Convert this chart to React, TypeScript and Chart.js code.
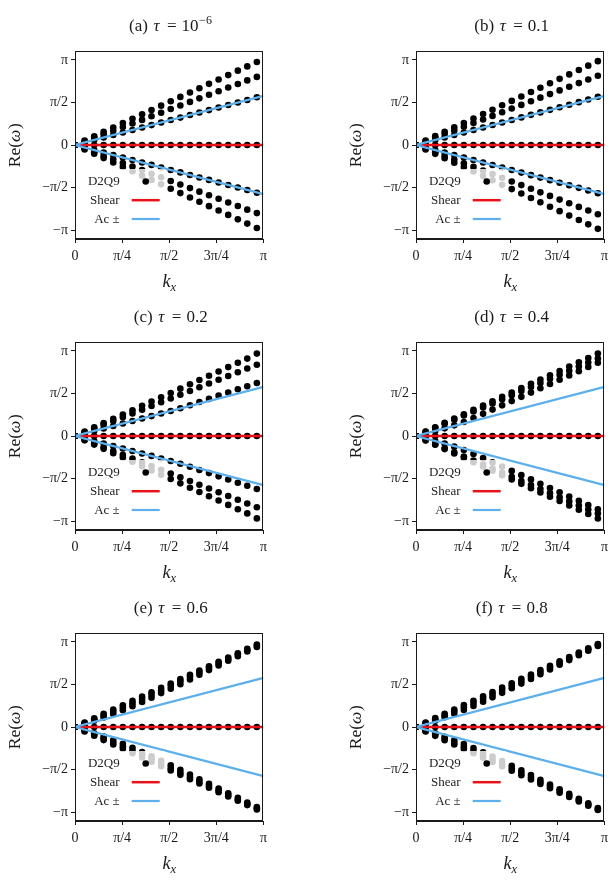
import React, { useEffect, useRef } from 'react';
import { Chart, registerables } from 'chart.js';

Chart.register(...registerables);

// ---- data (all values in units of π) ----
const KX = [0, 0.051, 0.102, 0.152, 0.203, 0.254, 0.305, 0.356, 0.406, 0.457, 0.508, 0.559, 0.61, 0.66, 0.711, 0.762, 0.813, 0.864, 0.914, 0.965];
const ZERO_MODE = [0, 0, 0, 0, 0, 0, 0, 0, 0, 0, 0, 0, 0, 0, 0, 0, 0, 0, 0, 0];

const A_TOP = [0, 0.052, 0.103, 0.154, 0.205, 0.257, 0.308, 0.36, 0.41, 0.462, 0.513, 0.565, 0.616, 0.667, 0.718, 0.77, 0.821, 0.873, 0.923, 0.975];
const A_MID = [0, 0.042, 0.085, 0.126, 0.168, 0.211, 0.253, 0.295, 0.337, 0.379, 0.422, 0.464, 0.506, 0.548, 0.59, 0.632, 0.675, 0.717, 0.759, 0.8];
const A_LOW = [0, 0.029, 0.059, 0.088, 0.117, 0.147, 0.176, 0.205, 0.234, 0.264, 0.293, 0.322, 0.352, 0.381, 0.41, 0.44, 0.469, 0.499, 0.529, 0.56];

const B_TOP = [0, 0.052, 0.104, 0.155, 0.207, 0.259, 0.311, 0.363, 0.414, 0.466, 0.518, 0.57, 0.622, 0.673, 0.725, 0.777, 0.829, 0.881, 0.932, 0.985];
const B_MID = [0, 0.043, 0.086, 0.128, 0.171, 0.214, 0.257, 0.3, 0.342, 0.385, 0.428, 0.471, 0.513, 0.556, 0.598, 0.641, 0.684, 0.727, 0.77, 0.814];
const B_LOW = [0, 0.03, 0.059, 0.088, 0.118, 0.147, 0.177, 0.206, 0.235, 0.265, 0.294, 0.324, 0.354, 0.383, 0.413, 0.443, 0.473, 0.503, 0.534, 0.566];

const C_TOP = [0, 0.051, 0.101, 0.151, 0.202, 0.253, 0.303, 0.354, 0.404, 0.455, 0.505, 0.556, 0.607, 0.657, 0.707, 0.758, 0.809, 0.86, 0.909, 0.968];
const C_MID = [0, 0.044, 0.088, 0.132, 0.176, 0.22, 0.264, 0.309, 0.352, 0.396, 0.44, 0.485, 0.529, 0.572, 0.616, 0.661, 0.705, 0.749, 0.792, 0.837];
const C_LOW = [0, 0.029, 0.059, 0.088, 0.117, 0.147, 0.176, 0.205, 0.234, 0.264, 0.293, 0.326, 0.362, 0.399, 0.436, 0.474, 0.511, 0.549, 0.585, 0.622];

const D_TOP = [0, 0.052, 0.103, 0.154, 0.205, 0.256, 0.307, 0.358, 0.409, 0.46, 0.51, 0.562, 0.613, 0.663, 0.714, 0.764, 0.815, 0.866, 0.916, 0.969];
const D_MID = [0, 0.048, 0.096, 0.143, 0.192, 0.24, 0.288, 0.336, 0.383, 0.431, 0.48, 0.528, 0.576, 0.623, 0.671, 0.719, 0.767, 0.816, 0.863, 0.911];
const D_LOW = [0, 0.03, 0.06, 0.09, 0.125, 0.165, 0.21, 0.26, 0.31, 0.36, 0.41, 0.46, 0.51, 0.56, 0.61, 0.66, 0.71, 0.76, 0.81, 0.86];

const E_TOP = [0, 0.052, 0.103, 0.154, 0.205, 0.256, 0.307, 0.358, 0.409, 0.46, 0.511, 0.562, 0.613, 0.663, 0.714, 0.765, 0.816, 0.867, 0.917, 0.968];
const E_MID = [0, 0.045, 0.09, 0.135, 0.182, 0.23, 0.279, 0.329, 0.38, 0.432, 0.484, 0.536, 0.589, 0.641, 0.694, 0.746, 0.799, 0.851, 0.903, 0.955];
const E_LOW = [0, 0.036, 0.073, 0.112, 0.154, 0.198, 0.245, 0.294, 0.345, 0.398, 0.45, 0.503, 0.558, 0.613, 0.668, 0.723, 0.778, 0.832, 0.886, 0.94];

const F_TOP = [0, 0.052, 0.104, 0.155, 0.206, 0.257, 0.309, 0.36, 0.411, 0.462, 0.514, 0.566, 0.617, 0.668, 0.72, 0.772, 0.823, 0.874, 0.925, 0.975];
const F_MID = [0, 0.046, 0.091, 0.137, 0.184, 0.232, 0.282, 0.332, 0.383, 0.435, 0.488, 0.541, 0.593, 0.646, 0.699, 0.753, 0.806, 0.859, 0.912, 0.965];
const F_LOW = [0, 0.037, 0.074, 0.114, 0.156, 0.2, 0.247, 0.296, 0.348, 0.401, 0.455, 0.51, 0.564, 0.619, 0.675, 0.731, 0.786, 0.842, 0.897, 0.952];

// theory lines
const LINE_KX = [0, 1];
const SHEAR = [0, 0];
const AC_PLUS = [0, 0.577];
const AC_MINUS = [0, -0.577];

// ticks
const X_TICKS = [0, 0.25, 0.5, 0.75, 1];
const X_TICK_LABELS = ['0', 'π/4', 'π/2', '3π/4', 'π'];
const Y_TICKS = [-1, -0.5, 0, 0.5, 1];
const Y_TICK_LABELS = ['−π', '−π/2', '0', 'π/2', 'π'];

const PANEL_LABELS = ['(a)', '(b)', '(c)', '(d)', '(e)', '(f)'];
const TAU_TEXT = ['10', '0.1', '0.2', '0.4', '0.6', '0.8'];
const TAU_EXP = ['−6', '', '', '', '', ''];
const LEGEND_LABELS = ['D2Q9', 'Shear', 'Ac ±'];

const BRANCHES = [
  [A_TOP, A_MID, A_LOW],
  [B_TOP, B_MID, B_LOW],
  [C_TOP, C_MID, C_LOW],
  [D_TOP, D_MID, D_LOW],
  [E_TOP, E_MID, E_LOW],
  [F_TOP, F_MID, F_LOW],
];

// ---- style / layout ----
const FONT = "'Liberation Serif', 'Times New Roman', serif";
const RED = '#e8121b';
const BLUE = '#5db0ec';
const INK = '#1a1a1a';
const CANVAS_W = 272;
const CANVAS_H = 291;
const COL_LEFT = [0, 341];
const ROW_TOP = [0, 291, 582];
const Y_RANGE = 1.104;
const DOT_R = 3.3;

type Seg = { t: string; font: string; dy?: number; gap?: number };

function drawSegs(ctx: CanvasRenderingContext2D, segs: Seg[], cx: number, y: number) {
  let total = 0;
  const widths = segs.map((s) => {
    ctx.font = s.font;
    const w = ctx.measureText(s.t).width + (s.gap || 0);
    total += w;
    return w;
  });
  let x = cx - total / 2;
  ctx.textAlign = 'left';
  ctx.textBaseline = 'alphabetic';
  segs.forEach((s, i) => {
    ctx.font = s.font;
    ctx.fillText(s.t, x + (s.gap || 0) / 2, y + (s.dy || 0));
    x += widths[i];
  });
}

const decorPlugin = {
  id: 'decor',
  afterDatasetsDraw(chart: any) {
    const { ctx, chartArea: a } = chart;
    ctx.save();
    // full frame
    ctx.strokeStyle = INK;
    ctx.lineWidth = 1;
    const l = Math.round(a.left) + 0.5;
    const t = Math.round(a.top) + 0.5;
    const r = Math.round(a.right) - 0.5;
    const b = Math.round(a.bottom) - 0.5;
    ctx.strokeRect(l, t, r - l, b - t);

    // legend box (semi-transparent white)
    ctx.fillStyle = 'rgba(255,255,255,0.8)';
    ctx.beginPath();
    (ctx as any).roundRect(a.left + 4, a.top + 118, 87, 62, 3);
    ctx.fill();

    const textX = a.left + 44.7;
    const h0 = a.left + 56.7;
    const h1 = a.left + 84.7;
    const rows = [a.top + 130.5, a.top + 149.2, a.top + 168];
    ctx.font = `13px ${FONT}`;
    ctx.fillStyle = '#222';
    ctx.textAlign = 'right';
    ctx.textBaseline = 'middle';
    LEGEND_LABELS.forEach((lab, i) => ctx.fillText(lab, textX, rows[i] + 0.5));
    // handles
    ctx.fillStyle = '#000';
    ctx.beginPath();
    ctx.arc((h0 + h1) / 2, rows[0], DOT_R, 0, Math.PI * 2);
    ctx.fill();
    ctx.lineCap = 'butt';
    ctx.strokeStyle = RED;
    ctx.lineWidth = 2.5;
    ctx.beginPath();
    ctx.moveTo(h0, rows[1]);
    ctx.lineTo(h1, rows[1]);
    ctx.stroke();
    ctx.strokeStyle = BLUE;
    ctx.lineWidth = 2.2;
    ctx.beginPath();
    ctx.moveTo(h0, rows[2]);
    ctx.lineTo(h1, rows[2]);
    ctx.stroke();
    ctx.restore();
  },
  afterDraw(chart: any) {
    const { ctx, chartArea: a } = chart;
    const idx = chart.options.plugins.decor.panel as number;
    ctx.save();
    ctx.fillStyle = INK;
    const cx = (a.left + a.right) / 2;
    // title
    const tf = `17px ${FONT}`;
    const tfi = `italic 17px ${FONT}`;
    const segs: Seg[] = [
      { t: PANEL_LABELS[idx], font: tf, gap: 6 },
      { t: 'τ', font: tfi, gap: 5 },
      { t: '=', font: tf, gap: 10 },
      { t: TAU_TEXT[idx], font: tf },
    ];
    if (TAU_EXP[idx]) segs.push({ t: TAU_EXP[idx], font: `12px ${FONT}`, dy: -7.5, gap: 1 });
    drawSegs(ctx, segs, cx, a.top - 20);

    // x label k_x
    drawSegs(
      ctx,
      [
        { t: 'k', font: `italic 18px ${FONT}` },
        { t: 'x', font: `italic 12.5px ${FONT}`, dy: 3.5 },
      ],
      cx,
      a.bottom + 48
    );

    // y label Re(ω)
    ctx.translate(a.left - 55, (a.top + a.bottom) / 2);
    ctx.rotate(-Math.PI / 2);
    drawSegs(
      ctx,
      [
        { t: 'Re(', font: `17.5px ${FONT}` },
        { t: 'ω', font: `italic 17.5px ${FONT}` },
        { t: ')', font: `17.5px ${FONT}`, gap: 1 },
      ],
      0,
      0
    );
    ctx.restore();
  },
};

const pts = (xs: number[], ys: number[]) => xs.map((x, i) => ({ x, y: ys[i] }));
const neg = (ys: number[]) => ys.map((v) => -v);

function Panel({ idx }: { idx: number }) {
  const ref = useRef<HTMLCanvasElement>(null);
  useEffect(() => {
    const [top, mid, low] = BRANCHES[idx];
    const dotBranches = [ZERO_MODE, top, mid, low, neg(top), neg(mid), neg(low)];
    const dotSets = dotBranches.map((ys) => ({
      type: 'scatter' as const,
      data: pts(KX, ys),
      pointRadius: DOT_R,
      pointHoverRadius: DOT_R,
      pointBackgroundColor: '#000',
      pointBorderWidth: 0,
      showLine: false,
      order: 5,
    }));
    const lineSet = (ys: number[], color: string, w: number, order: number) => ({
      type: 'scatter' as const,
      data: pts(LINE_KX, ys),
      showLine: true,
      borderColor: color,
      borderWidth: w,
      pointRadius: 0,
      fill: false,
      order,
    });
    const tickFont = { family: FONT, size: 14 };
    const chart = new Chart(ref.current as HTMLCanvasElement, {
      type: 'scatter',
      data: {
        datasets: [
          lineSet(AC_PLUS, BLUE, 2.2, 0),
          lineSet(AC_MINUS, BLUE, 2.2, 0),
          lineSet(SHEAR, RED, 2.6, 1),
          ...dotSets,
        ] as any,
      },
      options: {
        responsive: false,
        animation: false,
        devicePixelRatio: 1,
        events: [],
        layout: { padding: { top: 51, right: 8.3, left: 0, bottom: 0 } },
        plugins: {
          legend: { display: false },
          tooltip: { enabled: false },
          decor: { panel: idx },
        } as any,
        scales: {
          x: {
            type: 'linear',
            min: 0,
            max: 1,
            afterBuildTicks: (s: any) => {
              s.ticks = X_TICKS.map((v) => ({ value: v }));
            },
            afterFit: (s: any) => {
              s.height = CANVAS_H - 51 - 188;
            },
            ticks: {
              callback: (_v: any, i: number) => X_TICK_LABELS[i],
              font: tickFont,
              color: INK,
              padding: 5,
              maxRotation: 0,
              autoSkip: false,
            },
            grid: { display: true, drawOnChartArea: false, drawTicks: true, tickLength: 4, tickColor: INK, color: INK },
            border: { display: true, color: INK, width: 1 },
          },
          y: {
            type: 'linear',
            min: -Y_RANGE,
            max: Y_RANGE,
            afterBuildTicks: (s: any) => {
              s.ticks = Y_TICKS.map((v) => ({ value: v }));
            },
            afterFit: (s: any) => {
              s.width = 75;
            },
            ticks: {
              callback: (_v: any, i: number) => Y_TICK_LABELS[i],
              font: tickFont,
              color: INK,
              padding: 3,
              autoSkip: false,
            },
            grid: { display: true, drawOnChartArea: false, drawTicks: true, tickLength: 4, tickColor: INK, color: INK },
            border: { display: true, color: INK, width: 1 },
          },
        },
      } as any,
      plugins: [decorPlugin as any],
    });
    return () => chart.destroy();
  }, [idx]);
  const col = idx % 2;
  const row = Math.floor(idx / 2);
  return (
    <canvas
      ref={ref}
      width={CANVAS_W}
      height={CANVAS_H}
      style={{ position: 'absolute', left: COL_LEFT[col], top: ROW_TOP[row], width: CANVAS_W, height: CANVAS_H }}
    />
  );
}

export default function App() {
  return (
    <div style={{ position: 'absolute', left: 0, top: 0, width: 612, height: 880, background: '#fff', overflow: 'hidden' }}>
      {PANEL_LABELS.map((_, i) => (
        <Panel key={i} idx={i} />
      ))}
    </div>
  );
}
